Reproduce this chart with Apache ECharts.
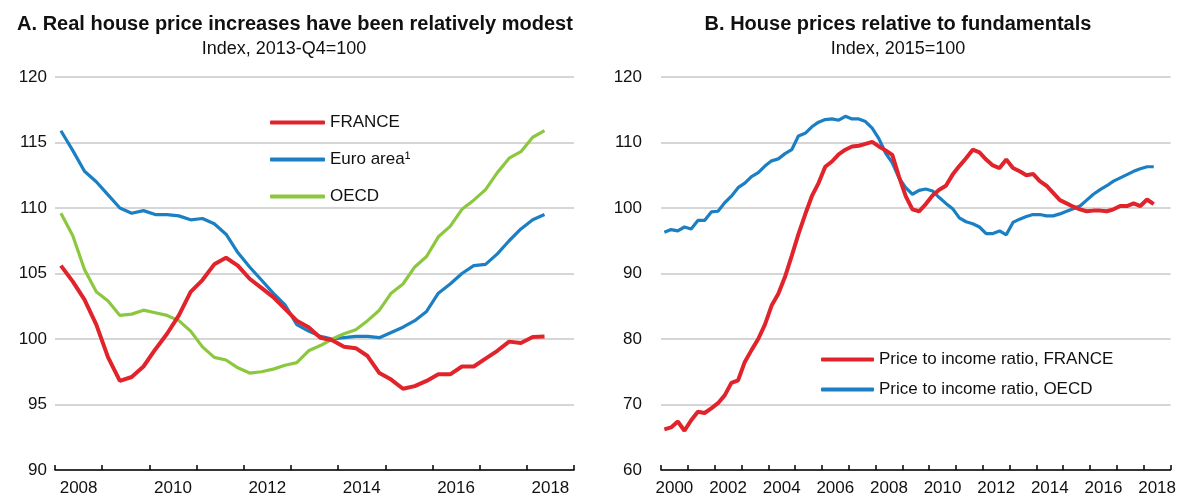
<!DOCTYPE html>
<html>
<head>
<meta charset="utf-8">
<script src="https://cdn.jsdelivr.net/npm/echarts@6/dist/echarts.min.js"></script>
<style>
  html, body { margin: 0; padding: 0; background: #fff; }
  #main { width: 1179px; height: 497px; }
</style>
</head>
<body>
<div id="main"></div>
<script>
// Panel A: quarterly, 2008Q1 - 2018Q2, index 2013-Q4=100
var franceA = [105.6, 104.4, 103.0, 101.1, 98.6, 96.8, 97.1, 97.9, 99.2, 100.4,
  101.8, 103.6, 104.5, 105.7, 106.2, 105.6, 104.6, 103.9, 103.2, 102.3,
  101.4, 100.9, 100.1, 99.9, 99.4, 99.3, 98.7, 97.4, 96.9, 96.2,
  96.4, 96.8, 97.3, 97.3, 97.9, 97.9, 98.5, 99.1, 99.8, 99.7,
  100.15, 100.2];
var euroA = [115.9, 114.4, 112.8, 112.0, 111.0, 110.0, 109.6, 109.8, 109.5, 109.5,
  109.4, 109.1, 109.2, 108.8, 108.0, 106.6, 105.5, 104.5, 103.5, 102.6,
  101.1, 100.6, 100.2, 100.0, 100.1, 100.2, 100.2, 100.1, 100.5, 100.9,
  101.4, 102.1, 103.5, 104.2, 105.0, 105.6, 105.7, 106.5, 107.5, 108.4,
  109.1, 109.5];
var oecdA = [109.6, 107.9, 105.3, 103.6, 102.9, 101.8, 101.9, 102.2, 102.0, 101.8,
  101.4, 100.6, 99.4, 98.6, 98.4, 97.8, 97.4, 97.5, 97.7, 98.0,
  98.2, 99.1, 99.5, 100.0, 100.4, 100.7, 101.4, 102.2, 103.5, 104.2,
  105.5, 106.3, 107.8, 108.6, 109.9, 110.6, 111.4, 112.7, 113.8, 114.3,
  115.4, 115.9];

// Panel B: quarterly, 2000Q1 - 2018Q2, index 2015=100
var franceB = [66.2, 66.5, 67.4, 66.0, 67.6, 68.9, 68.7, 69.4, 70.2, 71.4,
  73.3, 73.7, 76.5, 78.3, 80.0, 82.2, 85.1, 86.9, 89.5, 92.7,
  96.0, 99.0, 101.8, 103.8, 106.3, 107.1, 108.2, 108.9, 109.4, 109.5,
  109.8, 110.1, 109.4, 108.8, 108.1, 104.8, 101.8, 99.8, 99.5, 100.6,
  101.9, 102.8, 103.4, 105.1, 106.4, 107.6, 108.9, 108.5, 107.4, 106.5,
  106.1, 107.4, 106.1, 105.6, 105.0, 105.2, 104.1, 103.4, 102.3, 101.2,
  100.7, 100.2, 99.8, 99.5, 99.6, 99.6, 99.5, 99.8, 100.3, 100.3,
  100.7, 100.3, 101.3, 100.6];
var oecdB = [96.3, 96.7, 96.5, 97.1, 96.8, 98.1, 98.1, 99.4, 99.5, 100.8,
  101.8, 103.1, 103.8, 104.8, 105.4, 106.4, 107.2, 107.5, 108.3, 108.9,
  111.0, 111.4, 112.4, 113.1, 113.5, 113.6, 113.4, 114.0, 113.6, 113.6,
  113.2, 112.2, 110.6, 108.4, 106.9, 104.6, 103.1, 102.1, 102.7, 102.9,
  102.6, 101.6, 100.7, 99.9, 98.5, 97.9, 97.6, 97.1, 96.1, 96.1,
  96.5, 95.9, 97.8, 98.3, 98.7, 99.0, 99.0, 98.8, 98.8, 99.1,
  99.5, 99.9, 100.3, 101.2, 102.1, 102.8, 103.4, 104.1, 104.6, 105.1,
  105.6, 106.0, 106.3, 106.3];

var startYearA = 2008, yearsA = 11;
var startYearB = 2000, yearsB = 19;

var namesA = ['FRANCE', 'Euro area\u00b9', 'OECD'];
var namesB = ['Price to income ratio, FRANCE', 'Price to income ratio, OECD'];

var RED = '#e1242b', BLUE = '#1a7fc3', GREEN = '#8cc83f';
var FONT = 'Liberation Sans, Arial, sans-serif';

// quarter index -> middle of the quarter band
function toPoints(arr) {
  return arr.map(function (v, i) { return [i + 0.5, v]; });
}

var myChart = echarts.init(document.getElementById('main'));

function tickAxis(grid, years) {
  return {
    type: 'value', gridIndex: grid, position: 'bottom',
    min: 0, max: years * 4, interval: 4,
    axisLine: { show: true, onZero: false, lineStyle: { color: '#000', width: 1.5 } },
    axisTick: { show: true, inside: true, length: 5, lineStyle: { color: '#000', width: 1.5 } },
    axisLabel: { show: false },
    splitLine: { show: false }
  };
}
// second axis shifted half a year so labels sit in the middle of each year band
function labelAxis(grid, years, startYear) {
  return {
    type: 'value', gridIndex: grid, position: 'bottom',
    min: -2, max: years * 4 - 2, interval: 2,
    axisLine: { show: false }, axisTick: { show: false },
    splitLine: { show: false },
    axisLabel: {
      margin: 10, color: '#111', fontSize: 17, fontFamily: FONT,
      showMinLabel: true, showMaxLabel: true,
      formatter: function (v) {
        return (v >= 0 && v % 8 === 0) ? String(startYear + v / 4) : '';
      }
    }
  };
}
function yAxis(grid, min, max, step, margin) {
  return {
    type: 'value', gridIndex: grid, min: min, max: max, interval: step,
    axisLine: { show: false }, axisTick: { show: false },
    axisLabel: { color: '#111', fontSize: 17, fontFamily: FONT, margin: margin },
    splitLine: { lineStyle: { color: '#c8c8c8', width: 1.5 } }
  };
}
function line(name, data, color, width, xi, yi) {
  return {
    type: 'line', name: name, data: toPoints(data),
    xAxisIndex: xi, yAxisIndex: yi,
    showSymbol: false, symbol: 'none', smooth: false,
    lineStyle: { color: color, width: width },
    itemStyle: { color: color },
    animation: false
  };
}

myChart.setOption({
  animation: false,
  grid: [
    { left: 55, right: 605, top: 77, bottom: 25 },
    { left: 661, right: 7, top: 77, bottom: 25 }
  ],
  xAxis: [
    tickAxis(0, yearsA), labelAxis(0, yearsA, startYearA),
    tickAxis(1, yearsB), labelAxis(1, yearsB, startYearB)
  ],
  yAxis: [
    yAxis(0, 90, 120, 5, 8),
    yAxis(1, 60, 120, 10, 19)
  ],
  legend: [
    {
      data: namesA, orient: 'vertical', left: 270, top: 114, padding: 0,
      icon: 'roundRect', itemWidth: 55, itemHeight: 4, itemGap: 20,
      textStyle: { fontSize: 17, fontFamily: FONT, color: '#111' }
    },
    {
      data: namesB, orient: 'vertical', left: 821, top: 351, padding: 0,
      icon: 'roundRect', itemWidth: 53, itemHeight: 4, itemGap: 13,
      textStyle: { fontSize: 17, fontFamily: FONT, color: '#111' }
    }
  ],
  graphic: [
    { type: 'text', x: 295, y: 24, style: { text: 'A. Real house price increases have been relatively modest',
      font: 'bold 20px ' + FONT, fill: '#111', align: 'center', verticalAlign: 'middle' } },
    { type: 'text', x: 284, y: 49, style: { text: 'Index, 2013-Q4=100',
      font: '18px ' + FONT, fill: '#111', align: 'center', verticalAlign: 'middle' } },
    { type: 'text', x: 898, y: 24, style: { text: 'B. House prices relative to fundamentals',
      font: 'bold 20px ' + FONT, fill: '#111', align: 'center', verticalAlign: 'middle' } },
    { type: 'text', x: 898, y: 49, style: { text: 'Index, 2015=100',
      font: '18px ' + FONT, fill: '#111', align: 'center', verticalAlign: 'middle' } }
  ],
  series: [
    line(namesA[1], euroA, BLUE, 3.2, 0, 0),
    line(namesA[2], oecdA, GREEN, 3.2, 0, 0),
    line(namesA[0], franceA, RED, 4, 0, 0),
    line(namesB[1], oecdB, BLUE, 3.2, 2, 1),
    line(namesB[0], franceB, RED, 4, 2, 1)
  ]
});
</script>
</body>
</html>
